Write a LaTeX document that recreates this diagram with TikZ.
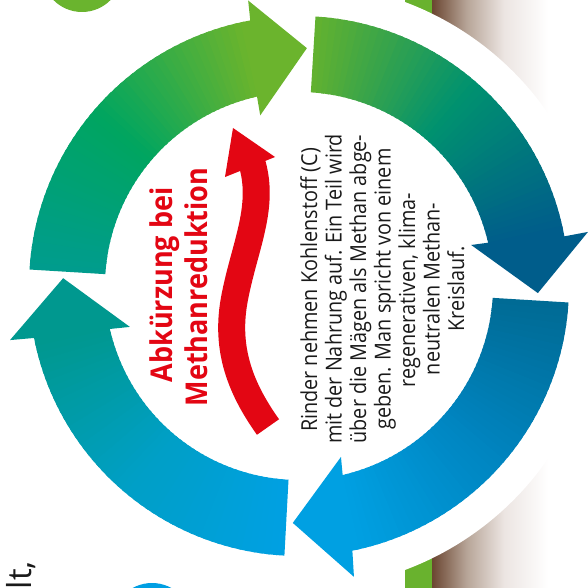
\documentclass[tikz,border=0pt]{standalone}
\usepackage{fontspec}
\setmainfont{Open Sans}
\newfontfamily\bodyfont[FakeStretch=0.9]{Open Sans}
\newfontfamily\plainfont{Open Sans}
\newfontfamily\titlefont[FakeStretch=0.9]{Open Sans}
\definecolor{redc}{HTML}{E30613}
\definecolor{textc}{HTML}{1A1A1A}
\definecolor{brownc}{HTML}{6B4631}
\definecolor{brownm}{HTML}{B7A598}
\definecolor{brownl}{HTML}{ECE5E2}
\definecolor{grassc}{HTML}{69B22E}
\definecolor{limec}{HTML}{6AB42E}
\definecolor{bluec}{HTML}{009FE3}
\pgfdeclarehorizontalshading{soil}{100bp}{color(0bp)=(brownc); color(25bp)=(brownc);
  color(40bp)=(brownm); color(56bp)=(brownl); color(75bp)=(white); color(100bp)=(white)}
\newcommand\RingArrow[9]{%
  \foreach \k in {0,...,47}{%
    \pgfmathsetmacro\angA{#1+(#3-#1)*\k/48}%
    \pgfmathsetmacro\angB{#1+(#3-#1)*(\k+1.5)/48}%
    \pgfmathsetmacro\sliceT{(\k+0.5)/48}%
    \ifdim\sliceT pt<0.5pt
      \pgfmathtruncatemacro\pc{200*\sliceT}\colorlet{slc}{ringB!\pc!ringA}%
    \else
      \pgfmathtruncatemacro\pc{200*\sliceT-100}\colorlet{slc}{ringC!\pc!ringB}%
    \fi
    \fill[slc] (\angA:194) arc[start angle=\angA, end angle=\angB, radius=194]
      -- (\angB:270) arc[start angle=\angB, end angle=\angA, radius=270] -- cycle;
  }%
  \fill[ringC] (#3:194) -- (#6:#7) -- (#8:#9) -- (#4:#5) -- (#2:270)
    arc[start angle=#2, end angle=#3, radius=270] -- cycle;
}
\tikzset{
  bodytxt/.style={inner sep=0pt, text=textc, rotate=90, anchor=base,
    font=\bodyfont\fontsize{22}{24}\selectfont},
  titletxt/.style={inner sep=0pt, text=redc, rotate=90, anchor=base,
    font=\titlefont\bfseries\fontsize{30}{35}\selectfont}
}
\begin{document}
\begin{tikzpicture}[x=1pt,y=-1pt]
\useasboundingbox (0,0) rectangle (588,588);
\fill[white] (0,0) rectangle (588,588);
% right-hand soil strip
\fill[grassc] (405,0) rectangle (432,588);
\shade[shading=soil] (432,0) rectangle (548,588);
\fill[white] (299,286) circle[radius=303];
% partial circles
\fill[limec] (82,-28) circle[radius=40];
\fill[bluec] (152,623) circle[radius=40];
% ring of arrows
\begin{scope}[shift={(299,286)}, yscale=-1]
  \definecolor{ringA}{HTML}{009C8E}\definecolor{ringB}{HTML}{00A560}\definecolor{ringC}{HTML}{6BB42D}
  \RingArrow{176.5}{100.4}{102.5}{100.1}{290}{102.8}{175}{88.1}{238}
  \definecolor{ringA}{HTML}{63B22F}\definecolor{ringB}{HTML}{00926F}\definecolor{ringC}{HTML}{005D8B}
  \RingArrow{86.5}{10.6}{12.9}{10.6}{294}{13.4}{177}{-1.7}{239}
  \definecolor{ringA}{HTML}{006A94}\definecolor{ringB}{HTML}{0084BF}\definecolor{ringC}{HTML}{00A0E2}
  \RingArrow{-3.5}{-78.6}{-77.0}{-79.3}{296}{-76.2}{176}{-91.5}{237}
  \definecolor{ringA}{HTML}{00A0E3}\definecolor{ringB}{HTML}{009FC6}\definecolor{ringC}{HTML}{00988F}
  \RingArrow{266.9}{191.1}{192.8}{190.6}{294}{193.6}{174}{178.1}{236}
\end{scope}
% red wavy arrow
\coordinate (rs) at (268,427);
\coordinate (rm) at (235,296);
\coordinate (re) at (251,160);
\draw[redc, line width=27] (rs) .. controls (238,385) and (225,345) .. (rm)
  .. controls (245,245) and (266,205) .. (re);
\coordinate (rtip) at (233,128);
\coordinate (rb1) at (225,177);
\coordinate (rb2) at (275,157);
\fill[redc] (rtip) -- (rb1) -- (rb2) -- cycle;
% title
\node[titletxt] (t1) at (172,285) {Abkürzung bei};
\node[titletxt] (t2) at (207,287) {Methanreduktion};
% body text
\node[bodytxt] (b1) at (317,290) {Rinder nehmen Kohlenstoff (C)};
\node[bodytxt] (b2) at (341.5,289) {mit der Nahrung auf. Ein Teil wird};
\node[bodytxt] (b3) at (366,289) {über die Mägen als Methan abge-};
\node[bodytxt] (b4) at (390.5,289) {geben. Man spricht von einem};
\node[bodytxt] (b5) at (415,290) {regenerativen, klima-};
\node[bodytxt] (b6) at (439.5,289) {neutralen Methan-};
\node[bodytxt] (b7) at (464,289) {Kreislauf.};
% cut-off text at left edge
\node[inner sep=0pt, text=textc, rotate=90, anchor=base east,
  font=\plainfont\fontsize{33}{35}\selectfont] (lt) at (31,561) {lt,};
\end{tikzpicture}
\end{document}
